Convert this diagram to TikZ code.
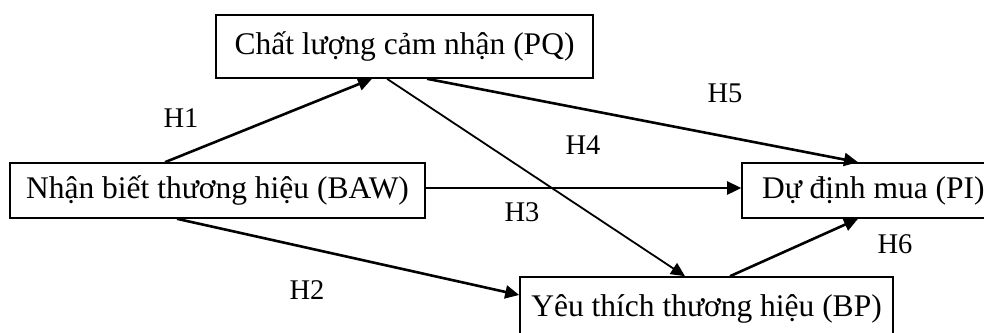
\documentclass[tikz,border=0pt]{standalone}
\usepackage{fontspec}
\setmainfont{Liberation Serif}
\usetikzlibrary{arrows.meta}
\tikzset{
  box/.style={draw, line width=1.6pt, inner sep=0pt, font=\fontsize{31.5}{36}\selectfont},
  lbl/.style={inner sep=0pt, font=\fontsize{28.5}{31}\selectfont},
  thickarrow/.style={line width=2.6pt, -{Triangle[length=14pt,width=13pt]}},
  thinarrow/.style={line width=1.8pt, -{Triangle[length=14pt,width=13pt]}}
}
\begin{document}
\begin{tikzpicture}[x=1pt,y=-1pt]
\useasboundingbox (0,0) rectangle (984,332);
\clip (0,0) rectangle (984,332);
\node[box, minimum width=377pt, minimum height=63pt] (PQ) at (404.5,46.5) {Chất lượng cảm nhận (PQ)};
\node[box, minimum width=415pt, minimum height=55pt] (BAW) at (217.5,190.5) {Nhận biết thương hiệu (BAW)};
\node[box, minimum width=258pt, minimum height=55pt] (PI) at (871,190.5) {\makebox[218pt][l]{Dự định mua (PI)}};
\node[box, minimum width=373pt, minimum height=63pt] (BP) at (706.5,308.5) {\raisebox{5pt}{Yêu thích thương hiệu (BP)}};
\draw[thickarrow] (165,0 |- BAW.north) -- (372,0 |- PQ.south);
\draw[thickarrow] (427,0 |- PQ.south) -- (858,0 |- PI.north);
\draw[thinarrow] (387,0 |- PQ.south) -- (685,0 |- BP.north);
\draw[thickarrow] (BAW.east |- 0,188) -- (PI.west |- 0,188);
\draw[thickarrow] (177,0 |- BAW.south) -- (BP.west |- 0,295);
\draw[thickarrow] (730,0 |- BP.north) -- (858,0 |- PI.south);
\node[lbl] (h1) at (181,118) {H1};
\node[lbl] (h5) at (725,93) {H5};
\node[lbl] (h4) at (583,145) {H4};
\node[lbl] (h3) at (522,212) {H3};
\node[lbl] (h6) at (895,244) {H6};
\node[lbl] (h2) at (307,290) {H2};
\end{tikzpicture}
\end{document}
